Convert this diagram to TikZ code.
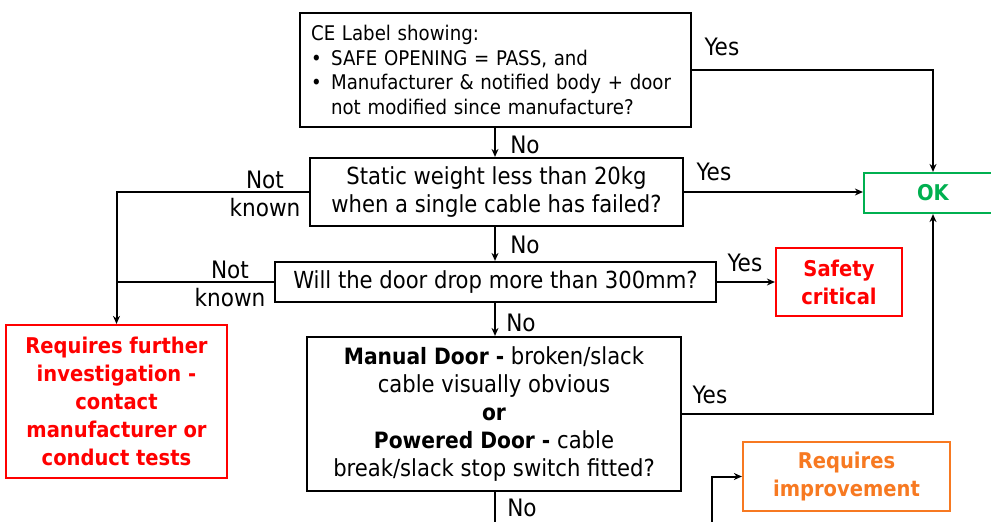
\documentclass[tikz,border=0pt]{standalone}
\usepackage{fontspec}
\setmainfont{DejaVu Sans Condensed}
\usetikzlibrary{arrows.meta}
\definecolor{okgreen}{RGB}{0,176,80}
\definecolor{alertred}{RGB}{255,0,0}
\definecolor{warnorange}{RGB}{247,121,33}
\newcommand{\regfont}{\fontsize{23.5}{28}\selectfont}
\newcommand{\boldfont}{\fontsize{21.7}{28}\selectfont\bfseries}
\tikzset{
  box/.style={draw=black, line width=2.2pt, inner sep=3pt, align=center, font=\regfont},
  redbox/.style={box, draw=alertred, text=alertred, font=\boldfont},
  greenbox/.style={box, draw=okgreen, text=okgreen, font=\boldfont},
  orangebox/.style={box, draw=warnorange, text=warnorange, font=\boldfont},
  conn/.style={line width=2pt},
  arr/.style={conn, -{Stealth[length=8pt,width=7pt]}},
  lbl/.style={font=\fontsize{24}{28}\selectfont, align=center, inner sep=0pt}
}
\begin{document}
\begin{tikzpicture}[x=1pt,y=-1pt]
\useasboundingbox (0,0) rectangle (991,522);
\clip (0,0) rectangle (991,522);
\fill[white] (0,0) rectangle (991,522);
% nodes
\node[box, anchor=north west, minimum width=391pt, minimum height=114pt, align=left, inner xsep=10pt,
  text width=369pt, font=\fontsize{20.2}{24.5}\selectfont] (ce) at (299,12)
  {CE Label showing:\\
   \makebox[20pt][l]{\fontsize{20}{20}\selectfont\textbullet}SAFE OPENING = PASS, and\\
   \makebox[20pt][l]{\fontsize{20}{20}\selectfont\textbullet}Manufacturer \& notified body + door\\
   \hspace*{20pt}not modified since manufacture?};
\node[box, minimum width=373pt, minimum height=68pt] (static) at (496.5,192)
  {Static weight less than 20kg\\when a single cable has failed?};
\node[box, minimum width=441pt, minimum height=40pt] (drop) at (495.5,282)
  {Will the door drop more than 300mm?};
\node[box, minimum width=374pt, minimum height=154pt] (manual) at (494,414)
  {{\fontsize{22.5}{28}\selectfont\bfseries Manual Door -} broken/slack\\cable visually obvious\\{\fontsize{22.5}{28}\selectfont\bfseries or}\\{\fontsize{22.5}{28}\selectfont\bfseries Powered Door -} cable\\break/slack stop switch fitted?};
\node[redbox, minimum width=221pt, minimum height=153pt] (further) at (116.5,401.5)
  {Requires further\\investigation -\\contact\\manufacturer or\\conduct tests};
\node[greenbox, minimum width=138pt, minimum height=40pt] (ok) at (933,193) {OK};
\node[redbox, minimum width=126pt, minimum height=68pt] (safety) at (839,282) {Safety\\critical};
\node[orangebox, minimum width=207pt, minimum height=69pt] (improve) at (846.5,476.5) {Requires\\improvement};
\coordinate (mdown) at (495,540);
\coordinate (impin) at (712,540);
% connectors
\draw[arr] (ce.south -| 495,0) -- (static.north -| 495,0);
\draw[arr] (ce.east) -| (ok.north);
\draw[arr] (static.east) -- (static.east -| ok.west);
\draw[arr] (static.west) -| (further.north);
\draw[conn] (drop.west) -- (drop.west -| further.north);
\draw[arr] (static.south -| 495,0) -- (drop.north -| 495,0);
\draw[arr] (drop.east) -- (safety.west);
\draw[arr] (drop.south -| 495,0) -- (manual.north -| 495,0);
\draw[arr] (manual.east) -| (ok.south);
\draw[conn] (manual.south -| 495,0) -- (mdown);
\draw[arr] (impin) |- (improve.west);
% labels
\node[lbl] (l1) at (722,47) {Yes};
\node[lbl] (l2) at (525,145) {No};
\node[lbl] (l3) at (714,172) {Yes};
\node[lbl] (l4) at (265,194) {Not\\known};
\node[lbl] (l5) at (525,245) {No};
\node[lbl] (l6) at (745,263) {Yes};
\node[lbl] (l7) at (230,284) {Not\\known};
\node[lbl] (l8) at (521,323) {No};
\node[lbl] (l9) at (710,395) {Yes};
\node[lbl] (l10) at (522,508) {No};
\end{tikzpicture}
\end{document}
